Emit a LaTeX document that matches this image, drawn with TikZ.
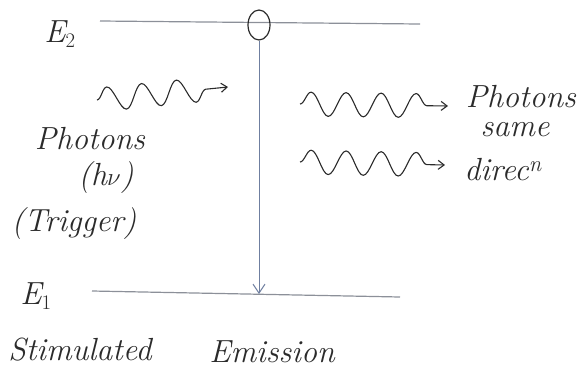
\documentclass[tikz,border=0pt]{standalone}
\usepackage{tikz}
\usetikzlibrary{arrows.meta,decorations.pathmorphing,positioning,shapes.geometric}
\definecolor{ink}{HTML}{2b2b2b}
\definecolor{level}{HTML}{8c9099}
\definecolor{pen}{HTML}{6f7fa0}

\begin{document}
\begin{tikzpicture}[x=1pt, y=-1pt,
  every node/.style={font=\fontsize{32}{38}\selectfont\itshape, text=ink, inner sep=0pt},
  levelline/.style={level, line width=1.2pt},
  photon/.style={ink, line width=1.1pt, decorate,
    decoration={snake, amplitude=12pt, segment length=35pt, post length=5pt},
    -{Straight Barb[length=6pt, width=9pt]}}]
\useasboundingbox (0,0) rectangle (578,381);
% energy levels
\coordinate (e2l) at (100,21);
\coordinate (e2r) at (420,24);
\coordinate (e1l) at (92,291);
\coordinate (e1r) at (400,297);
\draw[levelline] (e2l) -- (e2r);
\draw[levelline] (e1l) -- (e1r);
\node (lvlE2) at (60,34) {E$_2$};
\node (lvlE1) at (36,296) {E$_1$};
% excited atom and its drop to E1
\node (atom) [draw=ink, line width=1.2pt, ellipse, minimum width=22pt,
  minimum height=30pt] at (259,25) {};
\coordinate (drop) at (259,294);
\draw[pen, line width=1pt, -{Straight Barb[length=9pt, width=12pt]}] (atom.south) -- (drop);
% incoming photon
\coordinate (inS) at (97,100);
\coordinate (inE) at (228,87);
\draw[photon] (inS) -- (inE);
\node (phIn) at (90,139) {Photons};
\node (hnu) at (106,178) {(h$\nu$)};
\node (trig) at (74,224) {(Trigger)};
% two outgoing photons
\coordinate (outAS) at (300,104);
\coordinate (outAE) at (448,106);
\coordinate (outBS) at (300,162);
\coordinate (outBE) at (445,165);
\draw[photon] (outAS) -- (outAE);
\draw[photon] (outBS) -- (outBE);
\node (phOut) at (521,97) {Photons};
\node (same) at (515,130) {same};
\node (dirn) at (503,170) {direc\textsuperscript{n}};
% caption
\node (capA) at (80,350) {Stimulated};
\node (capB) at (272,352) {Emission};
\end{tikzpicture}
\end{document}
